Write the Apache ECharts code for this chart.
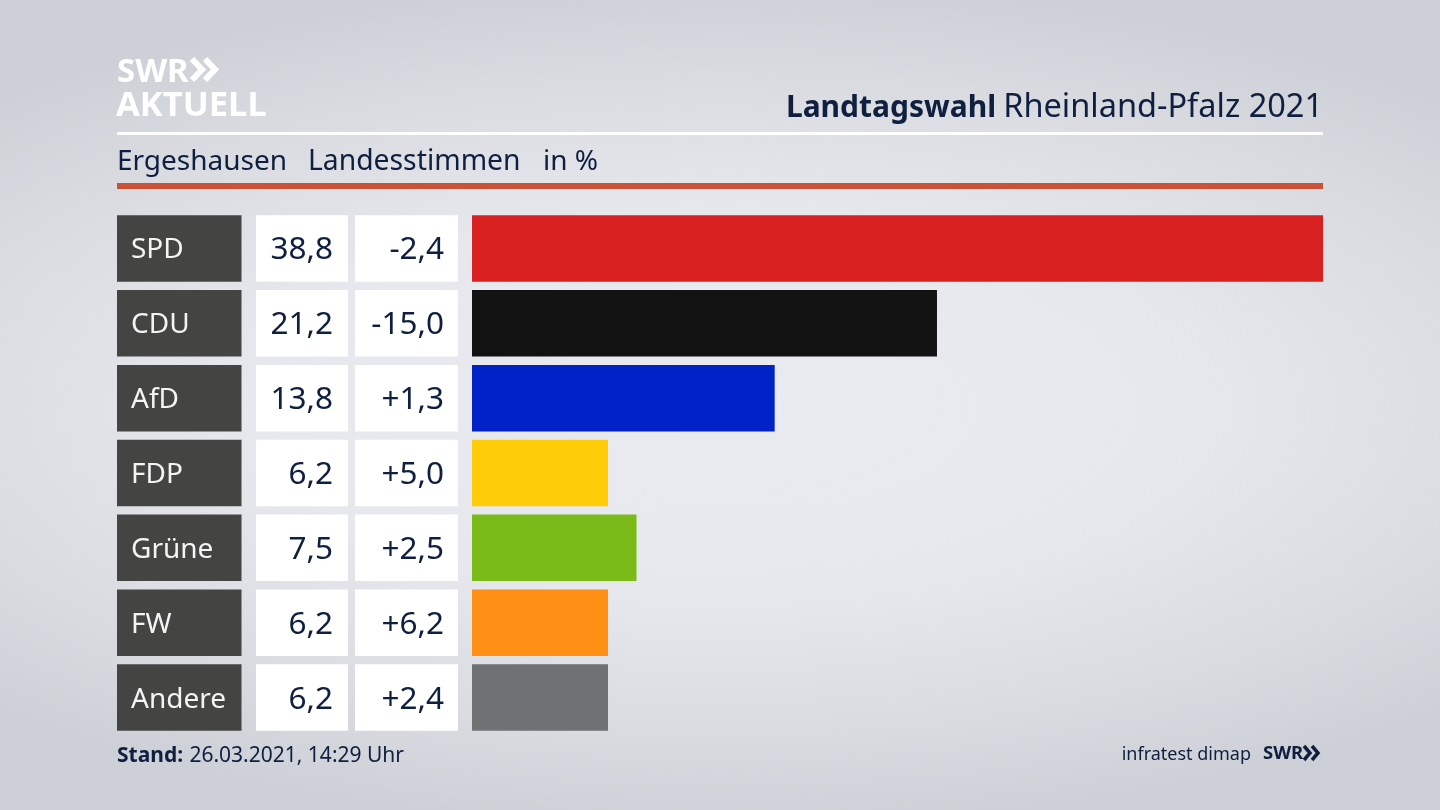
<!DOCTYPE html>
<html>
<head>
<meta charset="utf-8">
<title>Landtagswahl Rheinland-Pfalz 2021</title>
<style>
html, body { margin: 0; padding: 0; width: 1440px; height: 810px; overflow: hidden; }
body { background: radial-gradient(ellipse 72% 52% at 50% 50%, #eaebf0 0%, #e7e8ed 45%, #d9dbe1 78%, #cdd0d6 100%); }
#chart { width: 1440px; height: 810px; }
</style>
<script src="https://cdn.jsdelivr.net/npm/echarts@6/dist/echarts.min.js"></script>
</head>
<body>
<div id="chart"></div>
<script>
const parties = ['SPD', 'CDU', 'AfD', 'FDP', 'Grüne', 'FW', 'Andere']
const shares = [38.8, 21.2, 13.8, 6.2, 7.5, 6.2, 6.2]
const changes = [-2.4, -15.0, 1.3, 5.0, 2.5, 6.2, 2.4]
const partyColors = ['#d7201f', '#121212', '#0022c6', '#ffcc08', '#7abb1a', '#ff8e15', '#707173']

const font = '"Noto Sans", sans-serif'
const ink = '#0e1f3f'

function fmt(v) {
    return v.toFixed(1).replace('.', ',')
}

function fmtChange(v) {
    return (v > 0 ? '+' : '') + fmt(v)
}

// one table cell per row, same band as the bar next to it
function cell(left, width, fill, text, textColor, textX, align, size) {
    return function (params, api) {
        let y = api.coord([0, api.value(0)])[1]
        let h = 66.5
        return {
            type: 'group',
            children: [
                { type: 'rect', shape: { x: left, y: y - h / 2, width: width, height: h }, style: { fill: fill } },
                {
                    type: 'text',
                    style: {
                        x: textX, y: y + 2,
                        text: text(params.dataIndex),
                        fill: textColor,
                        font: size + 'px ' + font,
                        textAlign: align,
                        textVerticalAlign: 'middle'
                    }
                }
            ]
        }
    }
}

function cellSeries(renderItem) {
    return {
        type: 'custom',
        silent: true,
        clip: false,
        encode: { y: 0 },
        data: parties.map((p, i) => [i]),
        renderItem: renderItem
    }
}

function chevrons(x, y, w, h, gap, lineWidth, color) {
    return [0, 1].map(k => ({
        type: 'polyline',
        shape: { points: [[x + k * gap, y], [x + k * gap + w, y + h / 2], [x + k * gap, y + h]] },
        style: { stroke: color, lineWidth: lineWidth, fill: null }
    }))
}

let chart = echarts.init(document.getElementById('chart'), null, { renderer: 'canvas' })
chart.setOption({
    animation: false,
    backgroundColor: 'transparent',
    grid: { left: 472, top: 211, width: 851, height: 524, containLabel: false },
    xAxis: { type: 'value', min: 0, max: 38.8, show: false },
    yAxis: { type: 'category', data: parties, inverse: true, show: false },
    series: [
        {
            type: 'bar',
            barWidth: 66.5,
            silent: true,
            data: shares.map((v, i) => ({ value: v, itemStyle: { color: partyColors[i] } }))
        },
        cellSeries(cell(117, 124.5, '#444443', i => parties[i], '#f4f4f4', 131, 'left', 28)),
        cellSeries(cell(256, 92, '#ffffff', i => fmt(shares[i]), ink, 333, 'right', 31.5)),
        cellSeries(cell(355, 103, '#ffffff', i => fmtChange(changes[i]), ink, 444, 'right', 31.5))
    ],
    graphic: [
        { type: 'text', style: { x: 117, y: 56, text: 'SWR', fill: '#fff', font: 'bold 33px ' + font } },
        { type: 'text', style: { x: 116, y: 89, text: 'AKTUELL', fill: '#fff', font: 'bold 34.5px ' + font } },
        ...chevrons(192, 59, 10, 21, 13, 6, '#ffffff'),
        {
            type: 'text',
            style: {
                x: 1323, y: 108,
                text: '{b|Landtagswahl}{s| }{r|Rheinland-Pfalz 2021}',
                textAlign: 'right',
                textVerticalAlign: 'middle',
                rich: {
                    b: { font: 'bold 30px ' + font, fill: ink },
                    s: { font: '27px ' + font, fill: ink },
                    r: { font: '32.5px ' + font, fill: ink }
                }
            }
        },
        { type: 'rect', shape: { x: 117, y: 132, width: 1206, height: 3 }, style: { fill: '#ffffff' } },
        {
            type: 'text',
            style: { x: 117, y: 162, text: 'Ergeshausen', fill: ink, font: '28px ' + font, textVerticalAlign: 'middle' }
        },
        {
            type: 'text',
            style: { x: 308, y: 162, text: 'Landesstimmen', fill: ink, font: '28.3px ' + font, textVerticalAlign: 'middle' }
        },
        {
            type: 'text',
            style: { x: 543, y: 162, text: 'in %', fill: ink, font: '28px ' + font, textVerticalAlign: 'middle' }
        },
        { type: 'rect', shape: { x: 117, y: 183, width: 1206, height: 6 }, style: { fill: '#cb5238' } },
        {
            type: 'text',
            style: {
                x: 117, y: 756,
                text: '{b|Stand:} {r|26.03.2021, 14:29 Uhr}',
                textVerticalAlign: 'middle',
                rich: {
                    b: { font: 'bold 21px ' + font, fill: ink, padding: [0, 3, 0, 0] },
                    r: { font: '21px ' + font, fill: ink }
                }
            }
        },
        {
            type: 'text',
            style: { x: 1251, y: 755, text: 'infratest dimap', fill: ink, font: '18px ' + font, textAlign: 'right', textVerticalAlign: 'middle' }
        },
        {
            type: 'text',
            style: { x: 1263, y: 754, text: 'SWR', fill: ink, font: 'bold 18.5px ' + font, textVerticalAlign: 'middle' }
        },
        ...chevrons(1304, 746, 6, 14, 8, 3.5, ink)
    ]
})
</script>
</body>
</html>
